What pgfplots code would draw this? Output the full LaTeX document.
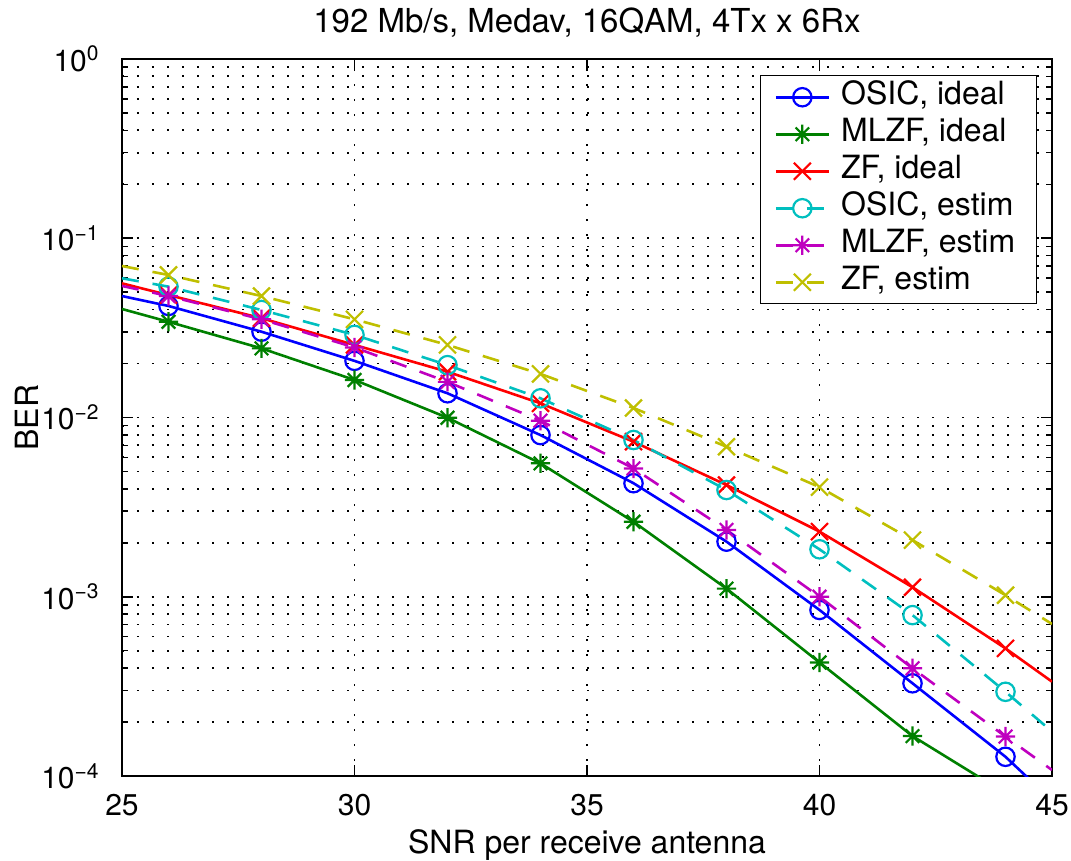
\documentclass[border=0pt]{standalone}
\usepackage{fontspec}
\setmainfont{TeX Gyre Heros}
\usepackage{pgfplots}
\pgfplotsset{compat=1.18}
\definecolor{mblue}{rgb}{0,0,1}
\definecolor{mgreen}{rgb}{0,0.5,0}
\definecolor{mred}{rgb}{1,0,0}
\definecolor{mcyan}{rgb}{0,0.75,0.75}
\definecolor{mmagenta}{rgb}{0.75,0,0.75}
\definecolor{myellow}{rgb}{0.75,0.75,0}
\pgfdeclareplotmark{mstar}{%
  \pgfpathmoveto{\pgfpoint{0pt}{\pgfplotmarksize}}\pgfpathlineto{\pgfpoint{0pt}{-\pgfplotmarksize}}%
  \pgfpathmoveto{\pgfpoint{\pgfplotmarksize}{0pt}}\pgfpathlineto{\pgfpoint{-\pgfplotmarksize}{0pt}}%
  \pgfpathmoveto{\pgfpoint{0.7071\pgfplotmarksize}{0.7071\pgfplotmarksize}}\pgfpathlineto{\pgfpoint{-0.7071\pgfplotmarksize}{-0.7071\pgfplotmarksize}}%
  \pgfpathmoveto{\pgfpoint{-0.7071\pgfplotmarksize}{0.7071\pgfplotmarksize}}\pgfpathlineto{\pgfpoint{0.7071\pgfplotmarksize}{-0.7071\pgfplotmarksize}}%
  \pgfusepathqstroke}
\newcommand{\bigf}{\fontsize{16pt}{19pt}\selectfont}
\begin{document}
\begin{tikzpicture}
\begin{semilogyaxis}[
  name=ax,
  scale only axis,
  width=465pt, height=358.5pt,
  xmin=25, xmax=45, ymin=1e-4, ymax=1,
  xtick={25,30,35,40,45},
  xticklabels={25,30,35,40,45},
  ytick={1e-4,1e-3,1e-2,1e-1,1},
  yticklabels={10\textsuperscript{−4},10\textsuperscript{−3},10\textsuperscript{−2},10\textsuperscript{−1},10\textsuperscript{0}},
  ticklabel style={font=\fontsize{15pt}{18pt}\selectfont},
  every x tick label/.style={anchor=base, yshift=-19.5pt, inner sep=0pt},
  every y tick label/.style={anchor=east, xshift=-11pt, inner sep=0pt},
  axis line style={line width=0.75pt},
  every tick/.style={line width=0.75pt, black},
  major tick length=5.5pt, minor tick length=3pt,
  grid=both,
  major grid style={black, line width=0.9pt, dash pattern=on 0.9pt off 6.6pt},
  minor grid style={black, line width=0.9pt, dash pattern=on 0.9pt off 6.6pt},
  minor x tick num=0,
  title={192 Mb/s, Medav, 16QAM, 4Tx x 6Rx},
  title style={at={(axis description cs:0.5,1)}, anchor=base, yshift=7pt, inner sep=0pt, font=\fontsize{16.5pt}{19pt}\selectfont},
  xlabel={SNR per receive antenna},
  xlabel style={at={(axis description cs:0.5,0)}, anchor=base, yshift=-38.5pt, inner sep=0pt, font=\bigf},
  ylabel={BER},
  ylabel style={at={(axis description cs:-0.0903,0.5)}, anchor=base, inner sep=0pt, font=\bigf},
  legend style={at={(axis description cs:1,1)}, anchor=north east, xshift=-7.5pt, yshift=-8pt,
    draw=black, line width=0.75pt, fill=white, font=\bigf,
    row sep=0pt, inner xsep=7pt, inner ysep=1.5pt,
    nodes={inner xsep=3.5pt, inner ysep=2pt, text height=11pt, text depth=3.5pt},
    /tikz/every odd column/.append style={column sep=2pt}},
  legend cell align=left,
  legend image code/.code={\draw (0pt,0pt) -- (26.5pt,0pt); \draw[mark indices={1}] plot coordinates {(13.25pt,0pt)};},
  every axis plot/.append style={line width=1.3pt},
]
\addplot[mblue, mark=o, mark size=4.6pt, mark options={line width=1.1pt}, mark indices={2,3,4,5,6,7,8,9,10,11}] coordinates {
(25,0.0476) (26,0.0419) (28,0.0301) (30,0.0207) (32,0.01365) (34,0.00798) (36,0.0043) (38,0.00203) (40,0.000844) (42,0.000329) (44,0.000128) (45,0.000073)};
\addlegendentry{OSIC, ideal}
\addplot[mgreen, mark=mstar, mark size=4.8pt, mark options={line width=1.1pt}, mark indices={2,3,4,5,6,7,8,9,10}] coordinates {
(25,0.0403) (26,0.0342) (28,0.0243) (30,0.0162) (32,0.00997) (34,0.00555) (36,0.00262) (38,0.00111) (40,0.00043) (42,0.000167) (44,0.000080)};
\addlegendentry{MLZF, ideal}
\addplot[mred, mark=x, mark size=6pt, mark options={line width=1.1pt}, mark indices={2,3,4,5,6,7,8,9,10,11}] coordinates {
(25,0.056) (26,0.0482) (28,0.0358) (30,0.0254) (32,0.018) (34,0.012) (36,0.00733) (38,0.0042) (40,0.00231) (42,0.00113) (44,0.000515) (45,0.000336)};
\addlegendentry{ZF, ideal}
\addplot[mcyan, dash pattern=on 8.5pt off 7pt, mark=o, mark size=4.6pt, mark options={solid, line width=1.1pt}, mark indices={2,3,4,5,6,7,8,9,10,11}] coordinates {
(25,0.0598) (26,0.0537) (28,0.0398) (30,0.0289) (32,0.0196) (34,0.0128) (36,0.00749) (38,0.00394) (40,0.00184) (42,0.00079) (44,0.000295) (45,0.000177)};
\addlegendentry{OSIC, estim}
\addplot[mmagenta, dash pattern=on 8.5pt off 7pt, mark=mstar, mark size=4.8pt, mark options={solid, line width=1.1pt}, mark indices={2,3,4,5,6,7,8,9,10,11}] coordinates {
(25,0.0542) (26,0.0476) (28,0.0353) (30,0.0246) (32,0.0158) (34,0.0096) (36,0.0052) (38,0.00236) (40,0.001) (42,0.000399) (44,0.000166) (45,0.000108)};
\addlegendentry{MLZF, estim}
\addplot[myellow, dash pattern=on 8.5pt off 7pt, mark=x, mark size=6pt, mark options={solid, line width=1.1pt}, mark indices={2,3,4,5,6,7,8,9,10,11}] coordinates {
(25,0.070) (26,0.0624) (28,0.0476) (30,0.0353) (32,0.0254) (34,0.0175) (36,0.0113) (38,0.00687) (40,0.00409) (42,0.00207) (44,0.00102) (45,0.000705)};
\addlegendentry{ZF, estim}
\end{semilogyaxis}
\path ([shift={(-61pt,-42.5pt)}]ax.south west) rectangle ([shift={(9.5pt,29.5pt)}]ax.north east);
\end{tikzpicture}
\end{document}
